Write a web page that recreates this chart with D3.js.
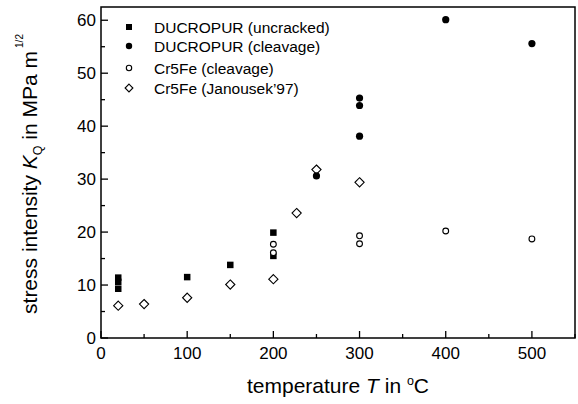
<!DOCTYPE html>
<html><head><meta charset="utf-8">
<script src="https://cdn.jsdelivr.net/npm/d3@7"></script>
<style>body{margin:0;background:#fff}svg{display:block}text{font-family:"Liberation Sans",Arial,sans-serif;fill:#000}</style>
</head><body><svg id="c" width="578" height="404"></svg>
<script>
const uncrackedT = [20, 20, 20, 100, 150, 200, 200];
const uncrackedK = [11.4, 10.6, 9.3, 11.5, 13.8, 19.9, 15.5];
const ducCleavT = [250, 300, 300, 300, 400, 500];
const ducCleavK = [30.6, 45.3, 43.9, 38.1, 60.1, 55.6];
const cr5CleavT = [200, 200, 300, 300, 400, 500];
const cr5CleavK = [17.7, 16.1, 19.3, 17.8, 20.2, 18.7];
const janT = [20, 50, 100, 150, 200, 227, 250, 300];
const janK = [6.1, 6.4, 7.6, 10.1, 11.1, 23.6, 31.8, 29.4];
const xTicks = [0, 100, 200, 300, 400, 500];
const yTicks = [0, 10, 20, 30, 40, 50, 60];
const legendLabels = ["DUCROPUR (uncracked)", "DUCROPUR (cleavage)", "Cr5Fe (cleavage)", "Cr5Fe (Janousek\u201997)"];

const svg = d3.select("#c");
const L = 101, R = 575, T = 7, B = 338;
const x = d3.scaleLinear().domain([0, 550]).range([L, R]);
const y = d3.scaleLinear().domain([0, 62.5]).range([B, T]);

// frame
svg.append("rect").attr("x", L).attr("y", T).attr("width", R - L).attr("height", B - T)
  .attr("fill", "none").attr("stroke", "#000").attr("stroke-width", 1.5);

// x ticks (inward)
const xMinor = d3.range(0, 551, 50);
svg.append("g").selectAll("line").data(xMinor).join("line")
  .attr("x1", d => x(d)).attr("x2", d => x(d)).attr("y1", B)
  .attr("y2", d => B - (d % 100 === 0 ? 7 : 4)).attr("stroke", "#000").attr("stroke-width", 1.3);
svg.append("g").selectAll("text").data(xTicks).join("text")
  .attr("x", d => x(d)).attr("y", 359).attr("text-anchor", "middle").attr("font-size", 17).text(d => d);

const yMinor = d3.range(0, 62, 5);
svg.append("g").selectAll("line").data(yMinor).join("line")
  .attr("y1", d => y(d)).attr("y2", d => y(d)).attr("x1", L)
  .attr("x2", d => L + (d % 10 === 0 ? 7 : 4)).attr("stroke", "#000").attr("stroke-width", 1.3);
svg.append("g").selectAll("text").data(yTicks).join("text")
  .attr("x", 96).attr("y", d => y(d) + 6).attr("text-anchor", "end").attr("font-size", 17).text(d => d);

// axis titles
const xt = svg.append("text").attr("x", 338).attr("y", 393).attr("text-anchor", "middle").attr("font-size", 21);
xt.append("tspan").text("temperature ");
xt.append("tspan").attr("font-style", "italic").text("T");
xt.append("tspan").text(" in ");
xt.append("tspan").attr("font-size", 12.5).attr("dy", -8).text("o");
xt.append("tspan").attr("dy", 8).text("C");

const yt = svg.append("text").attr("transform", "translate(37,174) rotate(-90)").attr("text-anchor", "middle").attr("font-size", 21);
yt.append("tspan").text("stress intensity ");
yt.append("tspan").attr("font-style", "italic").text("K");
yt.append("tspan").attr("font-size", 12.5).attr("dy", 5).text("Q");
yt.append("tspan").attr("dy", -5).text(" in MPa m");
yt.append("tspan").attr("font-size", 10).attr("dy", -14).attr("dx", 3).text("1/2");

// markers
function square(g, px, py, s) { g.append("rect").attr("x", px - s/2).attr("y", py - s/2).attr("width", s).attr("height", s).attr("fill", "#000"); }
function dot(g, px, py, r) { g.append("circle").attr("cx", px).attr("cy", py).attr("r", r).attr("fill", "#000"); }
function ring(g, px, py, r) { g.append("circle").attr("cx", px).attr("cy", py).attr("r", r).attr("fill", "#fff").attr("stroke", "#000").attr("stroke-width", 1.1); }
function diamond(g, px, py, r) { g.append("path").attr("d", `M${px},${py-r}L${px+r},${py}L${px},${py+r}L${px-r},${py}Z`).attr("fill", "#fff").attr("stroke", "#000").attr("stroke-width", 1.1); }

const gm = svg.append("g");
janT.forEach((t, i) => diamond(gm, x(t), y(janK[i]), 4.6));
uncrackedT.forEach((t, i) => square(gm, x(t), y(uncrackedK[i]), 6.5));
cr5CleavT.forEach((t, i) => ring(gm, x(t), y(cr5CleavK[i]), 2.9));
ducCleavT.forEach((t, i) => dot(gm, x(t), y(ducCleavK[i]), 3.6));

// legend
const ly = [27, 46, 68, 88];
const lg = svg.append("g");
square(lg, 129, ly[0], 6);
dot(lg, 129, ly[1], 3.2);
ring(lg, 129, ly[2], 2.7);
diamond(lg, 129, ly[3], 3.9);
lg.selectAll("text").data(legendLabels).join("text")
  .attr("x", 154).attr("y", (d, i) => ly[i] + 6).attr("font-size", 15.5).text(d => d);
</script></body></html>
